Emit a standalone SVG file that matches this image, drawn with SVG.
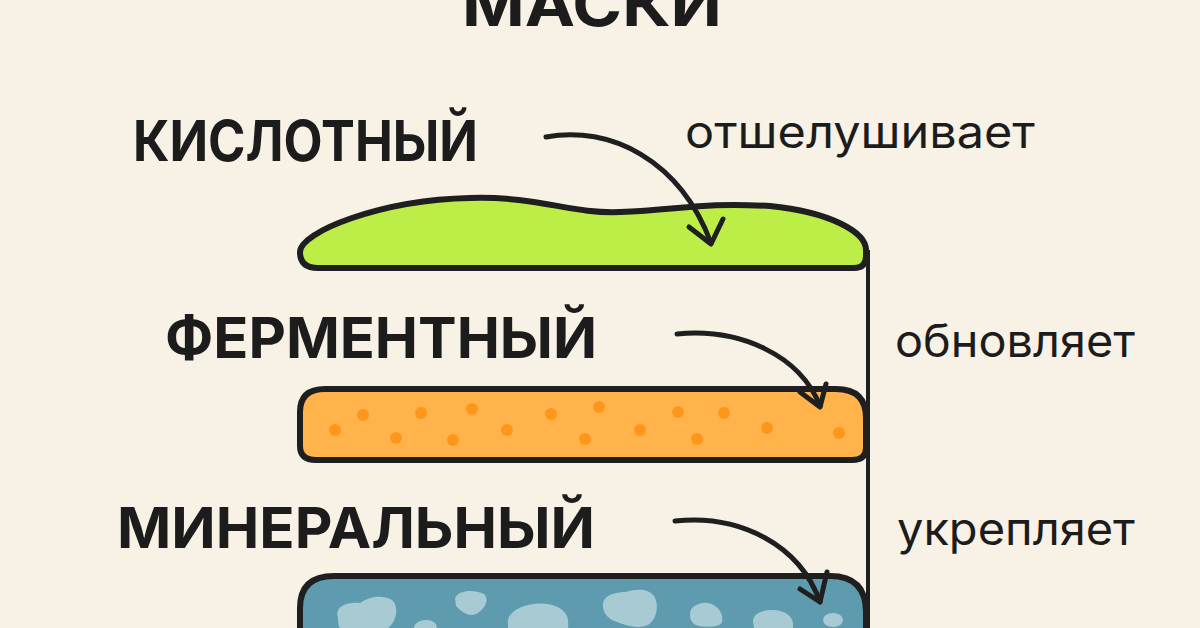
<svg xmlns="http://www.w3.org/2000/svg" width="1200" height="628" viewBox="0 0 1200 628">
<defs>
<style>
.bold{font-family:Inter,"Noto Sans","Liberation Sans",sans-serif;font-weight:700;fill:#1c1c1c}
.reg{font-family:Inter,"Noto Sans","Liberation Sans",sans-serif;font-weight:400;fill:#1c1c1c}
.outline{stroke:#1f1f1f;stroke-width:6;stroke-linejoin:round}
.arrow{fill:none;stroke:#1f1f1f;stroke-width:5;stroke-linecap:round;stroke-linejoin:round}
.dot{fill:#ff961c}
.spot{fill:#a8cad3}
</style>
</defs>
<rect width="1200" height="628" fill="#f8f1e6"/>

<g id="title">
<text class="bold" x="592" y="26" font-size="60" text-anchor="middle" textLength="260" lengthAdjust="spacingAndGlyphs">МАСКИ</text>
</g>

<g id="acid">
<path class="outline" fill="#bdee47" d="M318,268 Q300,268 300,252 C300,232 380,200 470,198 C540,196 570,214 620,212 C680,210 700,202 770,206 C830,212 866,232 866,250 L866,256 Q866,268 854,268 Z"/>
<text class="bold" x="133" y="161" font-size="57" textLength="345" lengthAdjust="spacingAndGlyphs">КИСЛОТНЫЙ</text>
<text class="reg" x="685" y="148" font-size="45" textLength="350" lengthAdjust="spacingAndGlyphs">отшелушивает</text>
</g>

<g id="enzyme">
<path class="outline" fill="#ffb34a" d="M325,389 L836,389 Q866,389 866,418 L866,448 Q866,460 852,460 L316,460 Q300,460 300,446 L300,412 Q300,389 325,389 Z"/>
<g>
<circle class="dot" cx="335" cy="430" r="6"/>
<circle class="dot" cx="363" cy="415" r="6"/>
<circle class="dot" cx="396" cy="438" r="6"/>
<circle class="dot" cx="421" cy="413" r="6"/>
<circle class="dot" cx="453" cy="440" r="6"/>
<circle class="dot" cx="472" cy="409" r="6"/>
<circle class="dot" cx="507" cy="430" r="6"/>
<circle class="dot" cx="551" cy="414" r="6"/>
<circle class="dot" cx="585" cy="439" r="6"/>
<circle class="dot" cx="599" cy="407" r="6"/>
<circle class="dot" cx="640" cy="430" r="6"/>
<circle class="dot" cx="678" cy="412" r="6"/>
<circle class="dot" cx="697" cy="439" r="6"/>
<circle class="dot" cx="724" cy="413" r="6"/>
<circle class="dot" cx="767" cy="428" r="6"/>
<circle class="dot" cx="839" cy="433" r="6"/>
</g>
<text class="bold" x="165" y="358" font-size="57" textLength="432" lengthAdjust="spacingAndGlyphs">ФЕРМЕНТНЫЙ</text>
<text class="reg" x="895" y="357" font-size="45" textLength="240" lengthAdjust="spacingAndGlyphs">обновляет</text>
</g>

<g id="mineral">
<path class="outline" fill="#5f9bae" d="M300,640 L300,608 Q300,576 334,576 L830,576 Q866,576 866,612 L866,640 Z"/>
<g>
<path class="spot" d="M338,618 C334,606 348,602 360,603 C368,597 382,594 392,600 C400,608 396,622 388,628 L340,628 C338,625 338,622 338,618 Z"/>
<path class="spot" d="M455,598 C458,590 474,589 484,594 C490,600 484,610 476,614 C468,617 462,612 456,606 Z"/>
<path class="spot" d="M414,628 C414,622 424,618 432,621 C437,623 437,628 437,628 Z"/>
<path class="spot" d="M508,624 C506,614 518,606 534,604 C548,602 562,606 567,616 C569,622 568,628 568,628 L508,628 Z"/>
<path class="spot" d="M603,606 C602,596 614,592 626,592 C636,589 648,588 654,596 C660,606 656,620 648,625 C636,630 622,624 612,620 C606,616 603,612 603,606 Z"/>
<path class="spot" d="M690,614 C690,606 700,602 708,603 C718,605 724,614 722,622 C720,628 700,628 694,624 C690,620 690,617 690,614 Z"/>
<path class="spot" d="M753,622 C752,614 762,610 772,610 C784,610 793,616 793,624 L793,628 L754,628 Z"/>
<ellipse class="spot" cx="833" cy="620" rx="10" ry="7"/>
</g>
<text class="bold" x="117" y="548" font-size="57" textLength="478" lengthAdjust="spacingAndGlyphs">МИНЕРАЛЬНЫЙ</text>
<text class="reg" x="897" y="545" font-size="45" textLength="238" lengthAdjust="spacingAndGlyphs">укрепляет</text>
</g>

<g id="connectors">
<line x1="868" y1="250" x2="868" y2="628" stroke="#1f1f1f" stroke-width="4"/>
<path class="arrow" d="M546,137 C610,125 680,160 711,243"/>
<path class="arrow" d="M689,227 L711,244 L723,219"/>
<path class="arrow" d="M677,334 C740,328 800,355 820,406"/>
<path class="arrow" d="M800,392 L820,407 L826,384"/>
<path class="arrow" d="M675,521 C740,514 800,545 820,602"/>
<path class="arrow" d="M800,589 L820,602 L827,572"/>
</g>
</svg>
